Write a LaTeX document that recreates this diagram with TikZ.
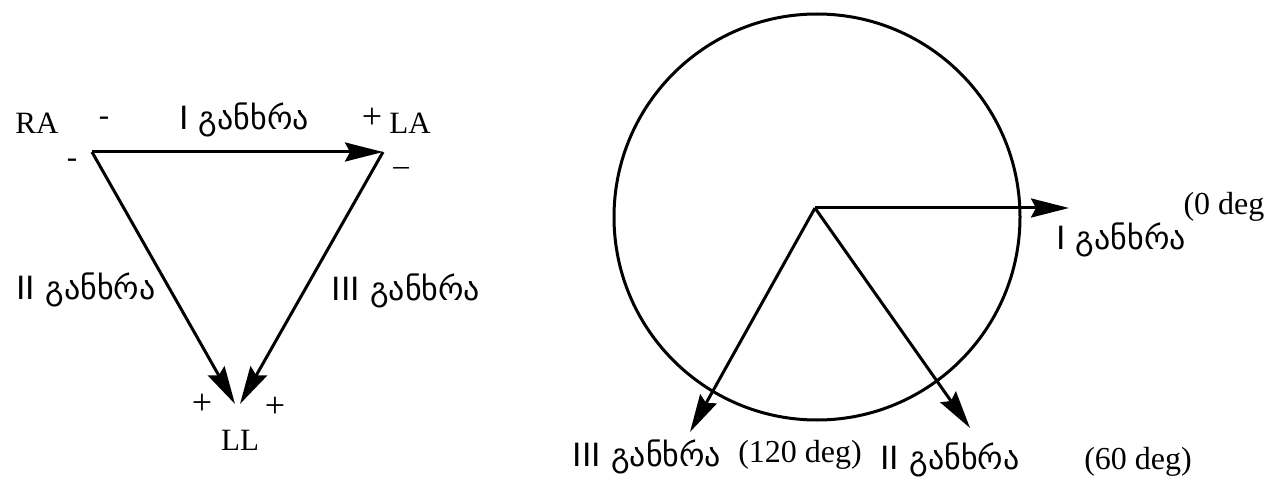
\documentclass[tikz,border=0pt]{standalone}
\usepackage{fontspec}
\setmainfont{Liberation Serif}
\newfontfamily\geo{DejaVu Sans}
\usetikzlibrary{arrows.meta}
\tikzset{
  lat/.style={inner sep=0pt, font=\fontsize{31}{34}\selectfont},
  deg/.style={inner sep=0pt, font=\fontsize{32}{34}\selectfont},
  sgn/.style={inner sep=0pt, font=\fontsize{31}{34}\selectfont},
  plus/.style={inner sep=0pt, font=\fontsize{36}{38}\selectfont},
  geol/.style={inner sep=0pt, font=\geo\fontsize{32}{36}\selectfont},
  vec/.style={line width=3pt, -{Stealth[length=38pt,width=19pt,inset=5pt]}},
  ring/.style={line width=3pt}
}
\begin{document}
\begin{tikzpicture}[x=1pt,y=-1pt]
\useasboundingbox[fill=white] (0,0) rectangle (1282,481);
% triangle
\coordinate (RA) at (92,152);
\coordinate (LA) at (383,152);
\coordinate (LLa) at (235,404);
\coordinate (LLb) at (240,404);
\draw[vec] (RA) -- (LA);
\draw[vec] (RA) -- (LLa);
\draw[vec] (LA) -- (LLb);
\node[lat] (ra) at (37,123) {RA};
\node[sgn] (m1) at (104,121) {-};
\node[geol] (l1) at (244,120) {I განხრა};
\node[plus] (p1) at (372,118) {+};
\node[lat] (la) at (410,123) {LA};
\node[sgn] (m2) at (72,163) {-};
\node[sgn] (m3) at (401,172) {–};
\node[geol] (l2) at (86,290) {II განხრა};
\node[geol] (l3) at (406,291) {III განხრა};
\node[plus] (p2) at (202,404) {+};
\node[plus] (p3) at (275,407) {+};
\node[lat] (ll) at (240,440) {LL};
% circle
\node[ring, draw, circle, minimum size=406pt, inner sep=0pt] (circ) at (817,217) {};
\coordinate (O) at (815,208);
\coordinate (E1) at (1069,208);
\coordinate (E2) at (970,428);
\coordinate (E3) at (690,432);
\draw[vec] (O) -- (E1);
\draw[vec] (O) -- (E2);
\draw[vec] (O) -- (E3);
\node[geol] (r1) at (1121,240) {I განხრა};
\node[deg] (d0) at (1224,207) {(0 deg};
\node[geol] (r3) at (647,457) {III განხრა};
\node[deg] (d120) at (800,455) {(120 deg)};
\node[geol] (r2) at (950,460) {II განხრა};
\node[deg] (d60) at (1138,462) {(60 deg)};
\end{tikzpicture}
\end{document}
